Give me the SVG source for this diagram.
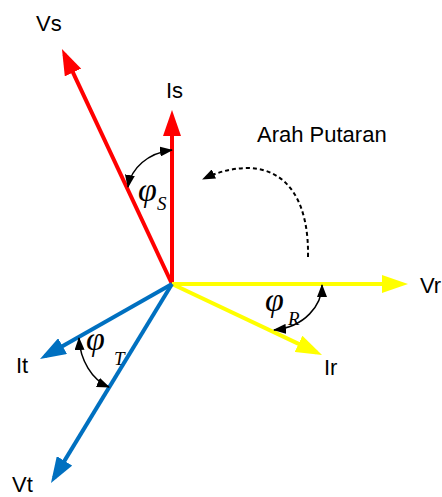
<svg xmlns="http://www.w3.org/2000/svg" width="442" height="497" viewBox="0 0 442 497">
<defs>
<style>
.lbl{font-family:"Liberation Sans",Arial,sans-serif;font-size:22px;fill:#000}
.phi{font-family:"Liberation Serif","Times New Roman",serif;font-style:italic;fill:#000;font-size:34px}
.sub{font-family:"Liberation Serif","Times New Roman",serif;font-style:italic;fill:#000;font-size:19px}
.vec{stroke-width:4;fill:none}
.red{stroke:#FF0000}
.yel{stroke:#FFFF00}
.blu{stroke:#0070C0}
.ang{stroke:#000;stroke-width:1.5;fill:none}
.rot{stroke:#000;stroke-width:2;fill:none;stroke-dasharray:4 3}
</style>
<marker id="hRed" markerUnits="userSpaceOnUse" markerWidth="26" markerHeight="18" refX="20" refY="9" orient="auto"><path d="M0,0 L26,9 L0,18 z" fill="#FF0000"/></marker>
<marker id="hYel" markerUnits="userSpaceOnUse" markerWidth="26" markerHeight="18" refX="20" refY="9" orient="auto"><path d="M0,0 L26,9 L0,18 z" fill="#FFFF00"/></marker>
<marker id="hBlu" markerUnits="userSpaceOnUse" markerWidth="26" markerHeight="18" refX="20" refY="9" orient="auto"><path d="M0,0 L26,9 L0,18 z" fill="#0070C0"/></marker>
<marker id="hBlk" markerUnits="userSpaceOnUse" markerWidth="13" markerHeight="10" refX="12" refY="5" orient="auto-start-reverse"><path d="M0,0 L13,5 L0,10 z" fill="#000"/></marker>
</defs>
<g id="connectors">
<line id="Vs-vec" class="vec red" x1="172" y1="284" x2="64.5" y2="54.4" marker-end="url(#hRed)"/>
<line id="Is-vec" class="vec red" x1="172" y1="284" x2="172" y2="116" marker-end="url(#hRed)"/>
<line id="Vr-vec" class="vec yel" x1="172" y1="284" x2="402" y2="284" marker-end="url(#hYel)"/>
<line id="Ir-vec" class="vec yel" x1="172" y1="284" x2="316.6" y2="352.4" marker-end="url(#hYel)"/>
<line id="It-vec" class="vec blu" x1="172" y1="284" x2="45.2" y2="356" marker-end="url(#hBlu)"/>
<line id="Vt-vec" class="vec blu" x1="172" y1="284" x2="54.1" y2="477.9" marker-end="url(#hBlu)"/>
<path id="phiS-arc" class="ang" d="M128,187 C131,168 148,153 172,150" marker-start="url(#hBlk)" marker-end="url(#hBlk)"/>
<path id="phiR-arc" class="ang" d="M322,285 C322,305 305,327 274,330" marker-start="url(#hBlk)" marker-end="url(#hBlk)"/>
<path id="phiT-arc" class="ang" d="M79,338 C80,360 92,380 109,387" marker-start="url(#hBlk)" marker-end="url(#hBlk)"/>
<path id="rotation" class="rot" d="M308,257 C309,205 290,169 248,168 C232,168 218,172 203,179" marker-end="url(#hBlk)"/>
</g>
<g id="Vs"><text class="lbl" x="36" y="31">Vs</text></g>
<g id="Is"><text class="lbl" x="166" y="98">Is</text></g>
<g id="Vr"><text class="lbl" x="420" y="293">Vr</text></g>
<g id="Ir"><text class="lbl" x="324" y="375">Ir</text></g>
<g id="It"><text class="lbl" x="16" y="373">It</text></g>
<g id="Vt"><text class="lbl" x="12" y="492">Vt</text></g>
<g id="rotation-label"><text class="lbl" x="257" y="142">Arah Putaran</text></g>
<g id="phiS"><text class="phi" x="138" y="201">φ</text><text class="sub" x="157" y="210">S</text></g>
<g id="phiR"><text class="phi" x="265" y="311">φ</text><text class="sub" x="288" y="325">R</text></g>
<g id="phiT"><text class="phi" x="86" y="350">φ</text><text class="sub" x="114" y="365">T</text></g>
</svg>
